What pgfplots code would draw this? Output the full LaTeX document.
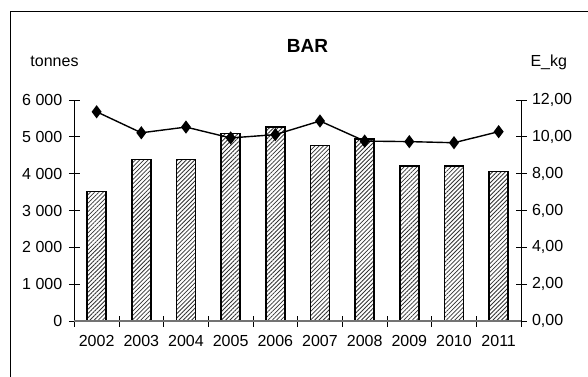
\documentclass[border=0pt]{standalone}
\usepackage{fontspec}
\setmainfont{Liberation Sans}
\usepackage{pgfplots}
\pgfplotsset{compat=1.18}
\usetikzlibrary{patterns.meta}

\begin{document}
\begin{tikzpicture}[x=1pt,y=1pt]
\useasboundingbox (0,0) rectangle (588,376);
\draw[line width=1pt] (10,-20) -- (10,365) -- (620,365);

\pgfplotsset{
  base/.style={
    scale only axis, width=446.7pt, height=221pt,
    at={(74.3pt,55pt)}, anchor=south west,
    xmin=-0.5, xmax=9.5,
    tick align=center, major tick length=11pt,
    tick style={black, line width=0.8pt},
    ticklabel style={font=\fontsize{16}{19}\selectfont},
    /pgf/number format/assume math mode=true,
  }
}

% bars, left axis
\begin{axis}[base,
  ymin=0, ymax=6000,
  axis y line*=left, axis x line*=bottom,
  y axis line style={black, line width=0.9pt},
  x axis line style={black!55, line width=1.2pt, -},
  ytick={0,1000,...,6000},
  yticklabel style={xshift=-3pt, /pgf/number format/.cd, fixed, precision=0, 1000 sep={\ }},
  xtick={0,...,9},
  xticklabels={2002,2003,2004,2005,2006,2007,2008,2009,2010,2011},
  xtick style={draw=none},
  xticklabel style={yshift=-5pt},
]
\addplot[ybar, bar width=19pt, draw=black, line width=1.5pt, fill=white,
  postaction={pattern={Lines[angle=45,distance=3pt,line width=0.8pt]}, pattern color=black!80}]
  coordinates {
  (0,3510) (1,4380) (2,4380) (3,5085) (4,5270)
  (5,4760) (6,4935) (7,4210) (8,4210) (9,4065)
};
\end{axis}

% line, right axis
\begin{axis}[base,
  ymin=0, ymax=12,
  axis y line*=right, axis x line*=bottom,
  y axis line style={black, line width=0.9pt},
  x axis line style={black!55, line width=1.2pt, -},
  ytick={0,2,...,12},
  yticklabel style={xshift=2pt, /pgf/number format/.cd, fixed, fixed zerofill, precision=2, use comma},
  xtick={-0.5,0.5,...,9.5},
  xticklabels={},
]
\addplot[black, line width=1.4pt, mark=diamond*, mark size=5.5pt]
  coordinates {
  (0,11.36) (1,10.22) (2,10.53) (3,9.94) (4,10.12)
  (5,10.86) (6,9.77) (7,9.74) (8,9.68) (9,10.28)
};
\end{axis}

\node[font=\fontsize{19}{22}\selectfont\bfseries] at (307.5,330) {BAR};
\node[font=\fontsize{16}{19}\selectfont, anchor=base] at (54.5,310) {tonnes};
\node[font=\fontsize{16}{19}\selectfont, anchor=base] at (548.8,309.3) {E\_kg};
\end{tikzpicture}
\end{document}
